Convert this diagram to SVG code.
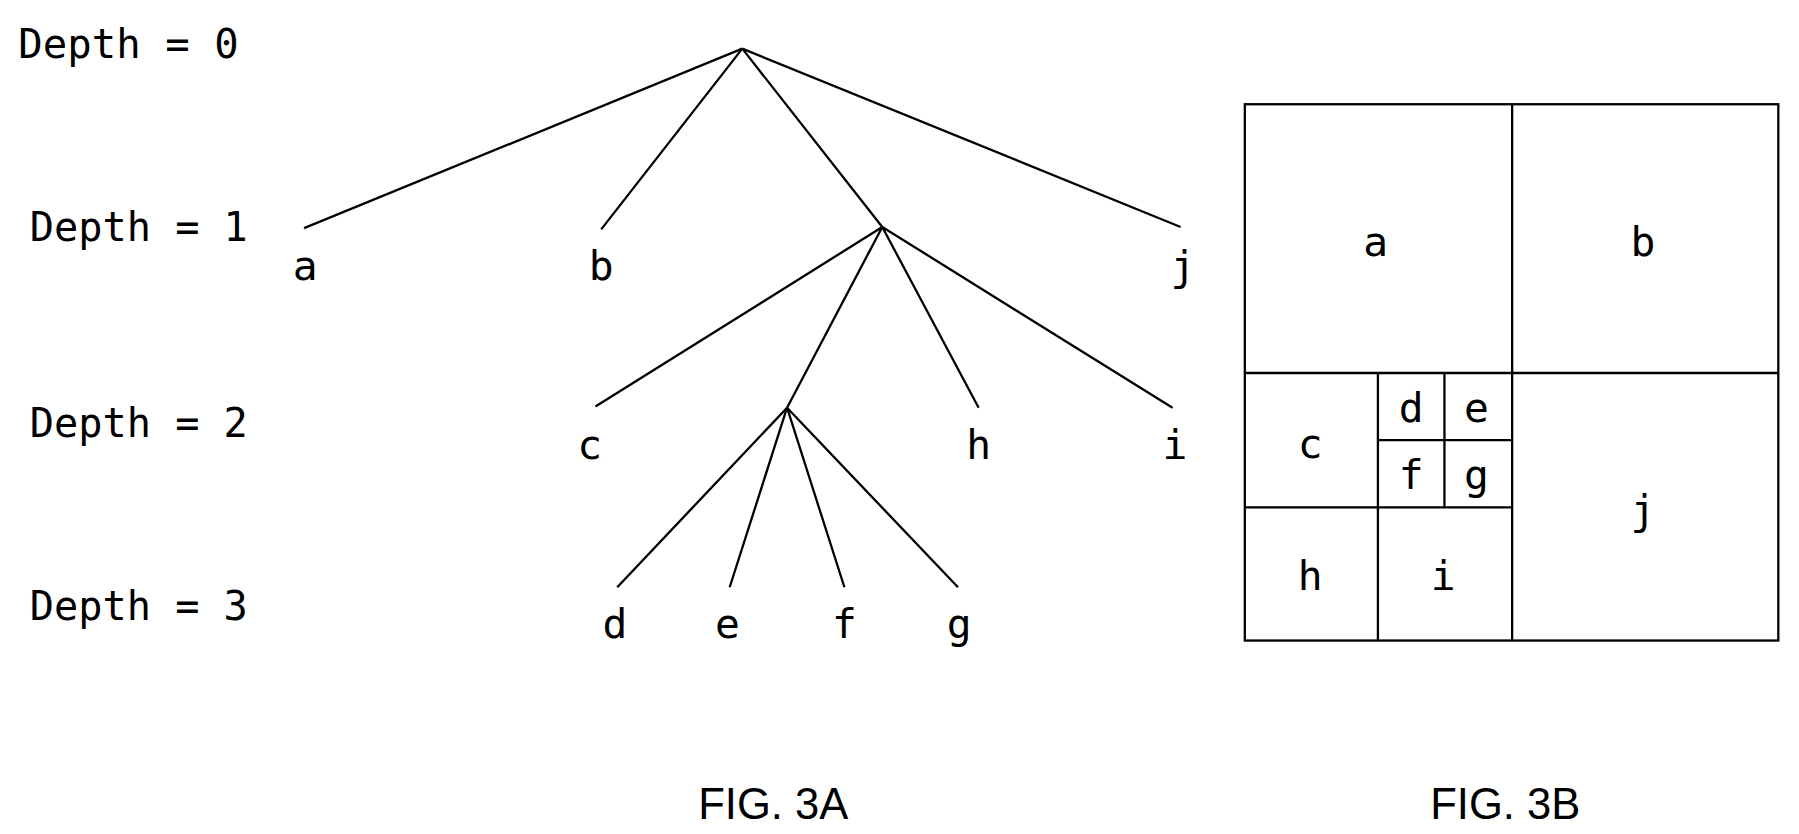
<svg xmlns="http://www.w3.org/2000/svg" width="1799" height="834" viewBox="0 0 1799 834">
<style>
.l{stroke:#000;stroke-width:2;fill:none}
.t{font-family:"DejaVu Sans Mono","Liberation Mono",monospace;font-size:36px;fill:#000;text-anchor:middle}
.d{font-family:"DejaVu Sans Mono","Liberation Mono",monospace;font-size:36px;fill:#000}
.f{font-family:"Liberation Sans",Arial,sans-serif;font-size:38px;fill:#000;text-anchor:middle}
</style>
<rect width="1799" height="834" fill="#fff"/>
<g transform="scale(1.1473,1.1583)">
<g id="depth-labels">
<text class="d" x="16" y="50" textLength="192" lengthAdjust="spacingAndGlyphs">Depth = 0</text>
<text class="d" x="26" y="208" textLength="190" lengthAdjust="spacingAndGlyphs">Depth = 1</text>
<text class="d" x="26" y="377" textLength="190" lengthAdjust="spacingAndGlyphs">Depth = 2</text>
<text class="d" x="26" y="535" textLength="190" lengthAdjust="spacingAndGlyphs">Depth = 3</text>
</g>
<g id="connectors">
<path class="l" d="M647,42L265,197M647,42L524,198M647,42L769,196M647,42L1029,196M769,196L519,351M769,196L686,352M769,196L853,352M769,196L1022,352M686,352L538,507M686,352L636,507M686,352L736,507M686,352L835,507"/>
</g>
<g id="tree-nodes">
<text id="na" class="t" x="266" y="242">a</text>
<text id="nb" class="t" x="524" y="242">b</text>
<text id="nj" class="t" x="1031" y="242">j</text>
<text id="nc" class="t" x="514" y="396">c</text>
<text id="nh" class="t" x="853" y="396">h</text>
<text id="ni" class="t" x="1024" y="396">i</text>
<text id="nd" class="t" x="536" y="551">d</text>
<text id="ne" class="t" x="634" y="551">e</text>
<text id="nf" class="t" x="736" y="551">f</text>
<text id="ng" class="t" x="836" y="551">g</text>
</g>
<g id="fig3b">
<rect class="l" x="1085" y="90" width="465" height="463"/>
<path class="l" d="M1318,90V553M1085,322H1550M1085,438H1318M1201,322V553M1201,380H1318M1259,322V438"/>
<text class="t" x="1199" y="221">a</text>
<text class="t" x="1432" y="221">b</text>
<text class="t" x="1142" y="395">c</text>
<text class="t" x="1230" y="364">d</text>
<text class="t" x="1287" y="364">e</text>
<text class="t" x="1230" y="422">f</text>
<text class="t" x="1287" y="422">g</text>
<text class="t" x="1142" y="509">h</text>
<text class="t" x="1258" y="509">i</text>
<text class="t" x="1432" y="452">j</text>
</g>
<g id="captions">
<text class="f" x="674" y="707">FIG. 3A</text>
<text class="f" x="1312" y="707">FIG. 3B</text>
</g>
</g>
</svg>
